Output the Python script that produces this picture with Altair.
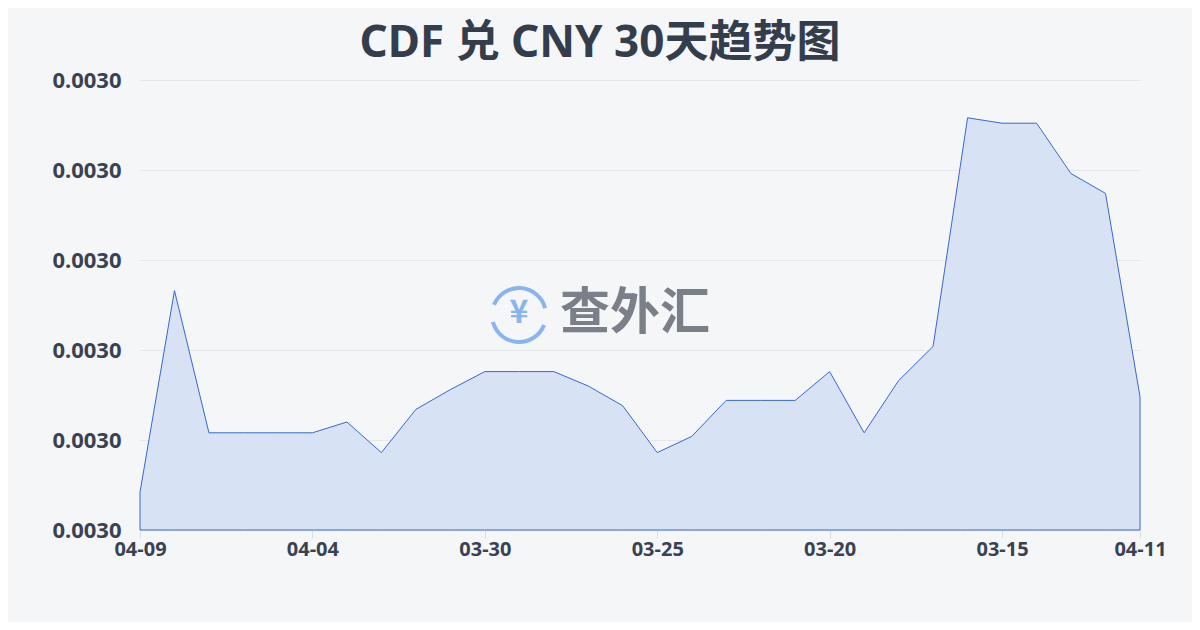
import json
import altair as alt
import pandas as pd

dates = ["04-09", "04-08", "04-07", "04-06", "04-05", "04-04", "04-03", "04-02",
         "04-01", "03-31", "03-30", "03-29", "03-28", "03-27", "03-26", "03-25",
         "03-24", "03-23", "03-22", "03-21", "03-20", "03-19", "03-18", "03-17",
         "03-16", "03-15", "03-14", "03-13", "03-12", "04-11"]
rates = [0.0029921, 0.0030033, 0.0029954, 0.0029954, 0.0029954, 0.0029954,
         0.0029960, 0.0029943, 0.0029967, 0.0029978, 0.0029988, 0.0029988,
         0.0029988, 0.0029980, 0.0029969, 0.0029943, 0.0029952, 0.0029972,
         0.0029972, 0.0029972, 0.0029988, 0.0029954, 0.0029983, 0.0030002,
         0.0030129, 0.0030126, 0.0030126, 0.0030098, 0.0030087, 0.0029974]
shown_idx = [0, 5, 10, 15, 20, 25, 29]
y_ticks = [0.00299, 0.002995, 0.003, 0.003005, 0.00301, 0.003015]
y_min, y_max = 0.00299, 0.003015

df = pd.DataFrame({"i": list(range(len(dates))), "date": dates, "rate": rates})

FONT = "Noto Sans"
TFONT = "Noto Sans, Noto Sans CJK SC"
LABEL = "#3a4252"

x_enc = alt.X("i:Q",
              scale=alt.Scale(domain=[0, len(dates) - 1], nice=False, zero=False),
              axis=alt.Axis(values=shown_idx, title=None, labelAngle=0,
                            labelExpr=json.dumps(dates) + "[datum.value]",
                            grid=False, domain=False, ticks=True,
                            tickColor="#d9dce1", tickSize=8,
                            labelFontSize=20, labelFontWeight="bold",
                            labelColor=LABEL, labelFont=FONT,
                            labelPadding=1, labelOverlap=False,
                            labelFlush=False))
y_enc = alt.Y("rate:Q",
              scale=alt.Scale(domain=[y_min, y_max], zero=False, nice=False),
              axis=alt.Axis(values=y_ticks, format=".4f", title=None,
                            grid=True, gridColor="#e4e7eb", domain=False,
                            ticks=False, labelFontSize=22,
                            labelFontWeight="bold", labelColor=LABEL,
                            labelFont=FONT, labelPadding=19))

area = alt.Chart(df).mark_area(
    fill="#d8e2f5", stroke="#3768cc", strokeWidth=1, fillOpacity=1
).encode(x=x_enc, y=y_enc, y2=alt.datum(y_min))

one = pd.DataFrame({"a": [0]})
wm_text = alt.Chart(one).mark_text(
    text="查外汇", fontSize=50, fontWeight="bold", font="Noto Sans CJK SC",
    color="#7b7f87", align="center", baseline="middle"
).encode(x=alt.value(495), y=alt.value(234))
wm_yen = alt.Chart(one).mark_text(
    text="¥", fontSize=32, fontWeight="bold", font="Noto Sans CJK SC",
    color="#8ab4f0", align="center", baseline="middle"
).encode(x=alt.value(379), y=alt.value(233))
wm_arc1 = alt.Chart(one).mark_arc(
    radius=29, radius2=25, theta=5.1, theta2=7.6, color="#8ab4f0"
).encode(x=alt.value(379), y=alt.value(235))
wm_arc2 = alt.Chart(one).mark_arc(
    radius=29, radius2=25, theta=1.95, theta2=4.45, color="#8ab4f0"
).encode(x=alt.value(379), y=alt.value(235))

chart = alt.layer(area, wm_arc1, wm_arc2, wm_yen, wm_text).properties(
    width=1000, height=450,
    title=alt.TitleParams("CDF 兑 CNY 30天趋势图", fontSize=44,
                          fontWeight="bold", font=TFONT, color="#343d4c",
                          anchor="middle", dx=-40, offset=3),
    autosize=alt.AutoSizeParams(type="none"),
    padding={"left": 132, "top": 72, "right": 52, "bottom": 92},
    background="#f5f6f8",
).configure_view(stroke=None)

chart.save("out.html", embed_options={"renderer": "svg", "actions": False})
